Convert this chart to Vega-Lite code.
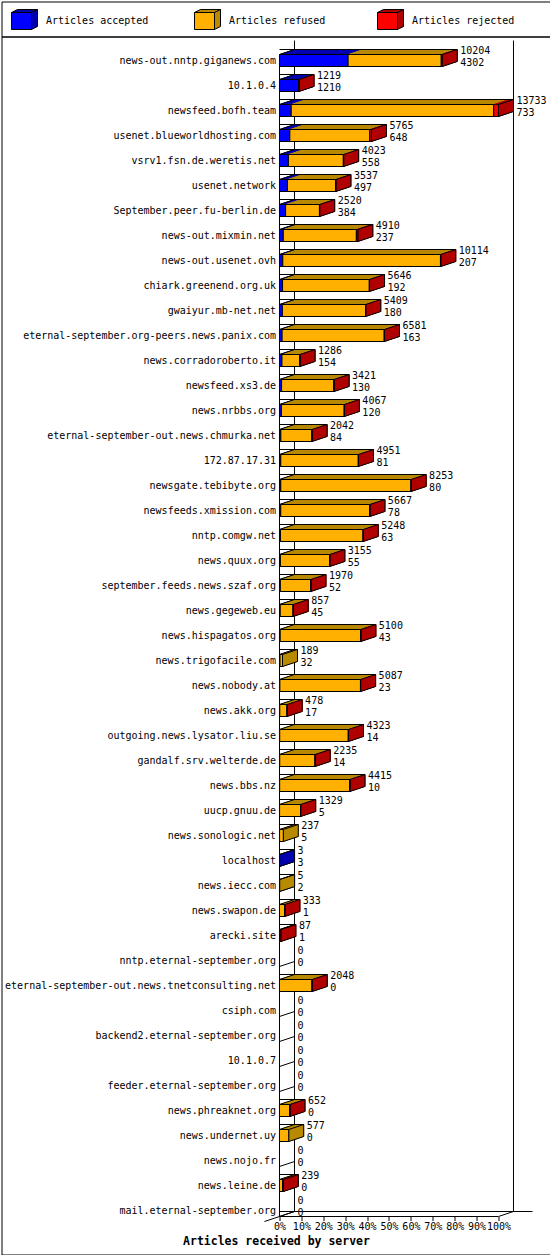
{
  "$schema": "https://vega.github.io/schema/vega-lite/v6.json",
  "padding": 0.5,
  "spacing": 0,
  "bounds": "flush",
  "background": "white",
  "config": {
    "view": {"stroke": "black", "strokeWidth": 1},
    "text": {"font": "DejaVu Sans Mono", "fontSize": 10, "color": "black"},
    "axis": {"labelFont": "DejaVu Sans Mono", "labelFontSize": 10, "labelColor": "black", "titleColor": "black", "tickColor": "black", "grid": false, "domain": false}
  },
  "vconcat": [
    {
      "width": 549,
      "height": 35,
      "data": {"values": [
        {"key": "accepted", "label": "Articles accepted"},
        {"key": "refused", "label": "Articles refused"},
        {"key": "rejected", "label": "Articles rejected"}
      ]},
      "encoding": {
        "x": {"field": "key", "type": "nominal", "sort": null, "axis": null, "scale": {"paddingInner": 0, "paddingOuter": 0}},
        "y": {"datum": "c", "type": "nominal", "axis": null, "scale": {"paddingInner": 0, "paddingOuter": 0}}
      },
      "layer": [
        {
          "mark": {"type": "point", "shape": "M-10,-8.5L-4,-11.5L16,-11.5L10,-8.5Z", "size": 4, "filled": true, "stroke": "black", "strokeWidth": 1, "opacity": 1, "xOffset": -71.5, "yOffset": 2},
          "encoding": {"fill": {"field": "key", "type": "nominal", "scale": {"domain": ["accepted", "refused", "rejected"], "range": ["#0000b0", "#b88a00", "#b00000"]}, "legend": null}}
        },
        {
          "mark": {"type": "point", "shape": "M10,-8.5L16,-11.5L16,5.5L10,8.5Z", "size": 4, "filled": true, "stroke": "black", "strokeWidth": 1, "opacity": 1, "xOffset": -71.5, "yOffset": 2},
          "encoding": {"fill": {"field": "key", "type": "nominal", "scale": {"domain": ["accepted", "refused", "rejected"], "range": ["#0000b0", "#b88a00", "#b00000"]}, "legend": null}}
        },
        {
          "mark": {"type": "bar", "width": 20, "height": 17, "xOffset": -71.5, "yOffset": 2, "stroke": "black", "strokeWidth": 1},
          "encoding": {"color": {"field": "key", "type": "nominal", "scale": {"domain": ["accepted", "refused", "rejected"], "range": ["#0000ff", "#ffb000", "#ff0000"]}, "legend": null}}
        },
        {
          "mark": {"type": "text", "align": "left", "baseline": "middle", "dx": -47, "dy": 2},
          "encoding": {"text": {"field": "label", "type": "nominal"}}
        }
      ]
    },
    {
      "width": 549,
      "height": 1218,
      "data": {"values": [
        {"server": "news-out.nntp.giganews.com", "total": 10204, "accepted": 4302, "refused": 5842, "rejected": 60},
        {"server": "10.1.0.4", "total": 1219, "accepted": 1210, "refused": 0, "rejected": 9},
        {"server": "newsfeed.bofh.team", "total": 13733, "accepted": 733, "refused": 12700, "rejected": 300},
        {"server": "usenet.blueworldhosting.com", "total": 5765, "accepted": 648, "refused": 5017, "rejected": 100},
        {"server": "vsrv1.fsn.de.weretis.net", "total": 4023, "accepted": 558, "refused": 3445, "rejected": 20},
        {"server": "usenet.network", "total": 3537, "accepted": 497, "refused": 3020, "rejected": 20},
        {"server": "September.peer.fu-berlin.de", "total": 2520, "accepted": 384, "refused": 2121, "rejected": 15},
        {"server": "news-out.mixmin.net", "total": 4910, "accepted": 237, "refused": 4583, "rejected": 90},
        {"server": "news-out.usenet.ovh", "total": 10114, "accepted": 207, "refused": 9887, "rejected": 20},
        {"server": "chiark.greenend.org.uk", "total": 5646, "accepted": 192, "refused": 5439, "rejected": 15},
        {"server": "gwaiyur.mb-net.net", "total": 5409, "accepted": 180, "refused": 5214, "rejected": 15},
        {"server": "eternal-september.org-peers.news.panix.com", "total": 6581, "accepted": 163, "refused": 6403, "rejected": 15},
        {"server": "news.corradoroberto.it", "total": 1286, "accepted": 154, "refused": 1122, "rejected": 10},
        {"server": "newsfeed.xs3.de", "total": 3421, "accepted": 130, "refused": 3281, "rejected": 10},
        {"server": "news.nrbbs.org", "total": 4067, "accepted": 120, "refused": 3937, "rejected": 10},
        {"server": "eternal-september-out.news.chmurka.net", "total": 2042, "accepted": 84, "refused": 1948, "rejected": 10},
        {"server": "172.87.17.31", "total": 4951, "accepted": 81, "refused": 4860, "rejected": 10},
        {"server": "newsgate.tebibyte.org", "total": 8253, "accepted": 80, "refused": 8163, "rejected": 10},
        {"server": "newsfeeds.xmission.com", "total": 5667, "accepted": 78, "refused": 5579, "rejected": 10},
        {"server": "nntp.comgw.net", "total": 5248, "accepted": 63, "refused": 5175, "rejected": 10},
        {"server": "news.quux.org", "total": 3155, "accepted": 55, "refused": 3090, "rejected": 10},
        {"server": "september.feeds.news.szaf.org", "total": 1970, "accepted": 52, "refused": 1908, "rejected": 10},
        {"server": "news.gegeweb.eu", "total": 857, "accepted": 45, "refused": 802, "rejected": 10},
        {"server": "news.hispagatos.org", "total": 5100, "accepted": 43, "refused": 5047, "rejected": 10},
        {"server": "news.trigofacile.com", "total": 189, "accepted": 32, "refused": 157, "rejected": 0},
        {"server": "news.nobody.at", "total": 5087, "accepted": 23, "refused": 5054, "rejected": 10},
        {"server": "news.akk.org", "total": 478, "accepted": 17, "refused": 451, "rejected": 10},
        {"server": "outgoing.news.lysator.liu.se", "total": 4323, "accepted": 14, "refused": 4299, "rejected": 10},
        {"server": "gandalf.srv.welterde.de", "total": 2235, "accepted": 14, "refused": 2211, "rejected": 10},
        {"server": "news.bbs.nz", "total": 4415, "accepted": 10, "refused": 4395, "rejected": 10},
        {"server": "uucp.gnuu.de", "total": 1329, "accepted": 5, "refused": 1314, "rejected": 10},
        {"server": "news.sonologic.net", "total": 237, "accepted": 5, "refused": 232, "rejected": 0},
        {"server": "localhost", "total": 3, "accepted": 3, "refused": 0, "rejected": 0},
        {"server": "news.iecc.com", "total": 5, "accepted": 2, "refused": 3, "rejected": 0},
        {"server": "news.swapon.de", "total": 333, "accepted": 1, "refused": 327, "rejected": 5},
        {"server": "arecki.site", "total": 87, "accepted": 1, "refused": 26, "rejected": 60},
        {"server": "nntp.eternal-september.org", "total": 0, "accepted": 0, "refused": 0, "rejected": 0},
        {"server": "eternal-september-out.news.tnetconsulting.net", "total": 2048, "accepted": 0, "refused": 2038, "rejected": 10},
        {"server": "csiph.com", "total": 0, "accepted": 0, "refused": 0, "rejected": 0},
        {"server": "backend2.eternal-september.org", "total": 0, "accepted": 0, "refused": 0, "rejected": 0},
        {"server": "10.1.0.7", "total": 0, "accepted": 0, "refused": 0, "rejected": 0},
        {"server": "feeder.eternal-september.org", "total": 0, "accepted": 0, "refused": 0, "rejected": 0},
        {"server": "news.phreaknet.org", "total": 652, "accepted": 0, "refused": 642, "rejected": 10},
        {"server": "news.undernet.uy", "total": 577, "accepted": 0, "refused": 577, "rejected": 0},
        {"server": "news.nojo.fr", "total": 0, "accepted": 0, "refused": 0, "rejected": 0},
        {"server": "news.leine.de", "total": 239, "accepted": 0, "refused": 189, "rejected": 50},
        {"server": "mail.eternal-september.org", "total": 0, "accepted": 0, "refused": 0, "rejected": 0}
      ]},
      "layer": [
        {
          "mark": {"type": "point", "shape": "M0,6L15,1", "size": 4, "filled": false, "stroke": "black", "strokeWidth": 1, "opacity": 1},
          "encoding": {
            "x": {"datum": 0, "type": "quantitative", "scale": {"domain": [-17432.8, 16993.9], "nice": false, "zero": false}},
            "y": {"field": "server", "type": "nominal", "scale": {
              "domain": ["news-out.nntp.giganews.com", "10.1.0.4", "newsfeed.bofh.team", "usenet.blueworldhosting.com", "vsrv1.fsn.de.weretis.net", "usenet.network", "September.peer.fu-berlin.de", "news-out.mixmin.net", "news-out.usenet.ovh", "chiark.greenend.org.uk", "gwaiyur.mb-net.net", "eternal-september.org-peers.news.panix.com", "news.corradoroberto.it", "newsfeed.xs3.de", "news.nrbbs.org", "eternal-september-out.news.chmurka.net", "172.87.17.31", "newsgate.tebibyte.org", "newsfeeds.xmission.com", "nntp.comgw.net", "news.quux.org", "september.feeds.news.szaf.org", "news.gegeweb.eu", "news.hispagatos.org", "news.trigofacile.com", "news.nobody.at", "news.akk.org", "outgoing.news.lysator.liu.se", "gandalf.srv.welterde.de", "news.bbs.nz", "uucp.gnuu.de", "news.sonologic.net", "localhost", "news.iecc.com", "news.swapon.de", "arecki.site", "nntp.eternal-september.org", "eternal-september-out.news.tnetconsulting.net", "csiph.com", "backend2.eternal-september.org", "10.1.0.7", "feeder.eternal-september.org", "news.phreaknet.org", "news.undernet.uy", "news.nojo.fr", "news.leine.de", "mail.eternal-september.org"],
              "range": [11.5, 1186.5], "paddingInner": 0, "paddingOuter": 0}}
          }
        },
        {
          "data": {"values": [{}]},
          "layer": [
            {"mark": {"type": "point", "shape": "M15,-20L15,1151M0,-6L0,1156", "size": 4, "filled": false, "stroke": "black", "strokeWidth": 1, "opacity": 1},
             "encoding": {"x": {"datum": 0, "type": "quantitative"}, "y": {"datum": "news-out.nntp.giganews.com", "type": "nominal"}}},
            {"mark": {"type": "point", "shape": "M15,-20L15,1151", "size": 4, "filled": false, "stroke": "black", "strokeWidth": 1, "opacity": 1},
             "encoding": {"x": {"datum": 13733, "type": "quantitative"}, "y": {"datum": "news-out.nntp.giganews.com", "type": "nominal"}}},
            {"mark": {"type": "point", "shape": "M-15,11L15,1", "size": 4, "filled": false, "stroke": "black", "strokeWidth": 1, "opacity": 1},
             "encoding": {"x": {"datum": 0, "type": "quantitative"}, "y": {"datum": "mail.eternal-september.org", "type": "nominal"}}},
            {"mark": {"type": "point", "shape": "M0,6L15,1L34,1", "size": 4, "filled": false, "stroke": "black", "strokeWidth": 1, "opacity": 1},
             "encoding": {"x": {"datum": 13733, "type": "quantitative"}, "y": {"datum": "mail.eternal-september.org", "type": "nominal"}}}
          ]
        },
        {
          "mark": {"type": "bar", "height": 1, "yOffset": 6, "color": "black"},
          "encoding": {
            "x": {"aggregate": "max", "field": "total", "type": "quantitative", "stack": null},
            "y": {"datum": "mail.eternal-september.org", "type": "nominal"}
          }
        },
        {
          "mark": {"type": "bar", "height": 1, "xOffset": 15, "yOffset": 1, "color": "black"},
          "encoding": {
            "x": {"aggregate": "max", "field": "total", "type": "quantitative", "stack": null},
            "y": {"datum": "mail.eternal-september.org", "type": "nominal"}
          }
        },
        {
          "transform": [
            {"fold": ["accepted", "refused", "rejected"], "as": ["key", "value"]},
            {"filter": "datum.value > 0"}
          ],
          "encoding": {
            "x": {"field": "value", "type": "quantitative", "stack": "zero"},
            "y": {"field": "server", "type": "nominal"},
            "fill": {"field": "key", "type": "nominal", "scale": {"domain": ["accepted", "refused", "rejected"], "range": ["#0000b0", "#b88a00", "#b00000"]}, "legend": null},
            "stroke": {"field": "key", "type": "nominal", "scale": {"domain": ["accepted", "refused", "rejected"], "range": ["#0000b0", "#b88a00", "#b00000"]}, "legend": null},
            "order": {"field": "key", "type": "nominal", "sort": "ascending"}
          },
          "layer": [
            {"mark": {"type": "bar", "height": 12, "strokeWidth": 1, "xOffset": 15, "yOffset": -5}},
            {"mark": {"type": "bar", "height": 12, "strokeWidth": 1, "xOffset": 14, "yOffset": -4.667}},
            {"mark": {"type": "bar", "height": 12, "strokeWidth": 1, "xOffset": 13, "yOffset": -4.333}},
            {"mark": {"type": "bar", "height": 12, "strokeWidth": 1, "xOffset": 12, "yOffset": -4}},
            {"mark": {"type": "bar", "height": 12, "strokeWidth": 1, "xOffset": 11, "yOffset": -3.667}},
            {"mark": {"type": "bar", "height": 12, "strokeWidth": 1, "xOffset": 10, "yOffset": -3.333}},
            {"mark": {"type": "bar", "height": 12, "strokeWidth": 1, "xOffset": 9, "yOffset": -3}},
            {"mark": {"type": "bar", "height": 12, "strokeWidth": 1, "xOffset": 8, "yOffset": -2.667}},
            {"mark": {"type": "bar", "height": 12, "strokeWidth": 1, "xOffset": 7, "yOffset": -2.333}},
            {"mark": {"type": "bar", "height": 12, "strokeWidth": 1, "xOffset": 6, "yOffset": -2}},
            {"mark": {"type": "bar", "height": 12, "strokeWidth": 1, "xOffset": 5, "yOffset": -1.667}},
            {"mark": {"type": "bar", "height": 12, "strokeWidth": 1, "xOffset": 4, "yOffset": -1.333}},
            {"mark": {"type": "bar", "height": 12, "strokeWidth": 1, "xOffset": 3, "yOffset": -1}},
            {"mark": {"type": "bar", "height": 12, "strokeWidth": 1, "xOffset": 2, "yOffset": -0.667}},
            {"mark": {"type": "bar", "height": 12, "strokeWidth": 1, "xOffset": 1, "yOffset": -0.333}}
          ]
        },
        {
          "transform": [
            {"filter": "datum.total > 0"},
            {"calculate": "datum.rejected > 0 ? 'rejected' : (datum.refused > 0 ? 'refused' : 'accepted')", "as": "last"}
          ],
          "layer": [
            {"mark": {"type": "point", "shape": "M0,-6L15,-11L15,1L0,6Z", "size": 4, "filled": true, "stroke": "black", "strokeWidth": 1, "opacity": 1},
             "encoding": {
               "x": {"field": "total", "type": "quantitative"},
               "y": {"field": "server", "type": "nominal"},
               "fill": {"field": "last", "type": "nominal", "scale": {"domain": ["accepted", "refused", "rejected"], "range": ["#0000b0", "#b88a00", "#b00000"]}, "legend": null}
             }},
            {"mark": {"type": "bar", "height": 1, "xOffset": 15, "yOffset": -11, "color": "black"},
             "encoding": {
               "x": {"field": "total", "type": "quantitative", "stack": null},
               "y": {"field": "server", "type": "nominal"}
             }},
            {"mark": {"type": "point", "shape": "M0,-6L15,-11", "size": 4, "filled": false, "stroke": "black", "strokeWidth": 1, "opacity": 1},
             "encoding": {
               "x": {"datum": 0, "type": "quantitative"},
               "y": {"field": "server", "type": "nominal"}
             }}
          ]
        },
        {
          "transform": [
            {"fold": ["accepted", "refused", "rejected"], "as": ["key", "value"]},
            {"filter": "datum.value > 0"}
          ],
          "mark": {"type": "bar", "height": 12, "stroke": "black", "strokeWidth": 1},
          "encoding": {
            "x": {"field": "value", "type": "quantitative", "stack": "zero",
              "axis": {"orient": "bottom", "offset": -38, "values": [0, 1373.3, 2746.6, 4119.9, 5493.2, 6866.5, 8239.8, 9613.1, 10986.4, 12359.7, 13733],
                "labelExpr": "round(datum.value / 137.33) + '%'", "ticks": true, "tickSize": 4, "domain": false,
                "labelPadding": 1, "labelOverlap": false, "labelFlush": false, "labelBound": false,
                "title": "Articles received by server", "titleFont": "DejaVu Sans Mono", "titleFontWeight": "bold", "titleFontSize": 11.5, "titlePadding": 4}},
            "y": {"field": "server", "type": "nominal",
              "axis": {"orient": "left", "offset": -278, "domain": false, "ticks": false, "tickSize": 0, "labelPadding": 4, "labelLimit": 400, "labelOverlap": false, "title": null}},
            "color": {"field": "key", "type": "nominal", "scale": {"domain": ["accepted", "refused", "rejected"], "range": ["#0000ff", "#ffb000", "#ff0000"]}, "legend": null},
            "order": {"field": "key", "type": "nominal", "sort": "ascending"}
          }
        },
        {
          "mark": {"type": "text", "align": "left", "baseline": "middle", "dx": 18, "dy": -10},
          "encoding": {
            "x": {"field": "total", "type": "quantitative"},
            "y": {"field": "server", "type": "nominal"},
            "text": {"field": "total", "type": "quantitative", "format": "d"}
          }
        },
        {
          "mark": {"type": "text", "align": "left", "baseline": "middle", "dx": 18, "dy": 2},
          "encoding": {
            "x": {"field": "total", "type": "quantitative"},
            "y": {"field": "server", "type": "nominal"},
            "text": {"field": "accepted", "type": "quantitative", "format": "d"}
          }
        }
      ]
    }
  ]
}
